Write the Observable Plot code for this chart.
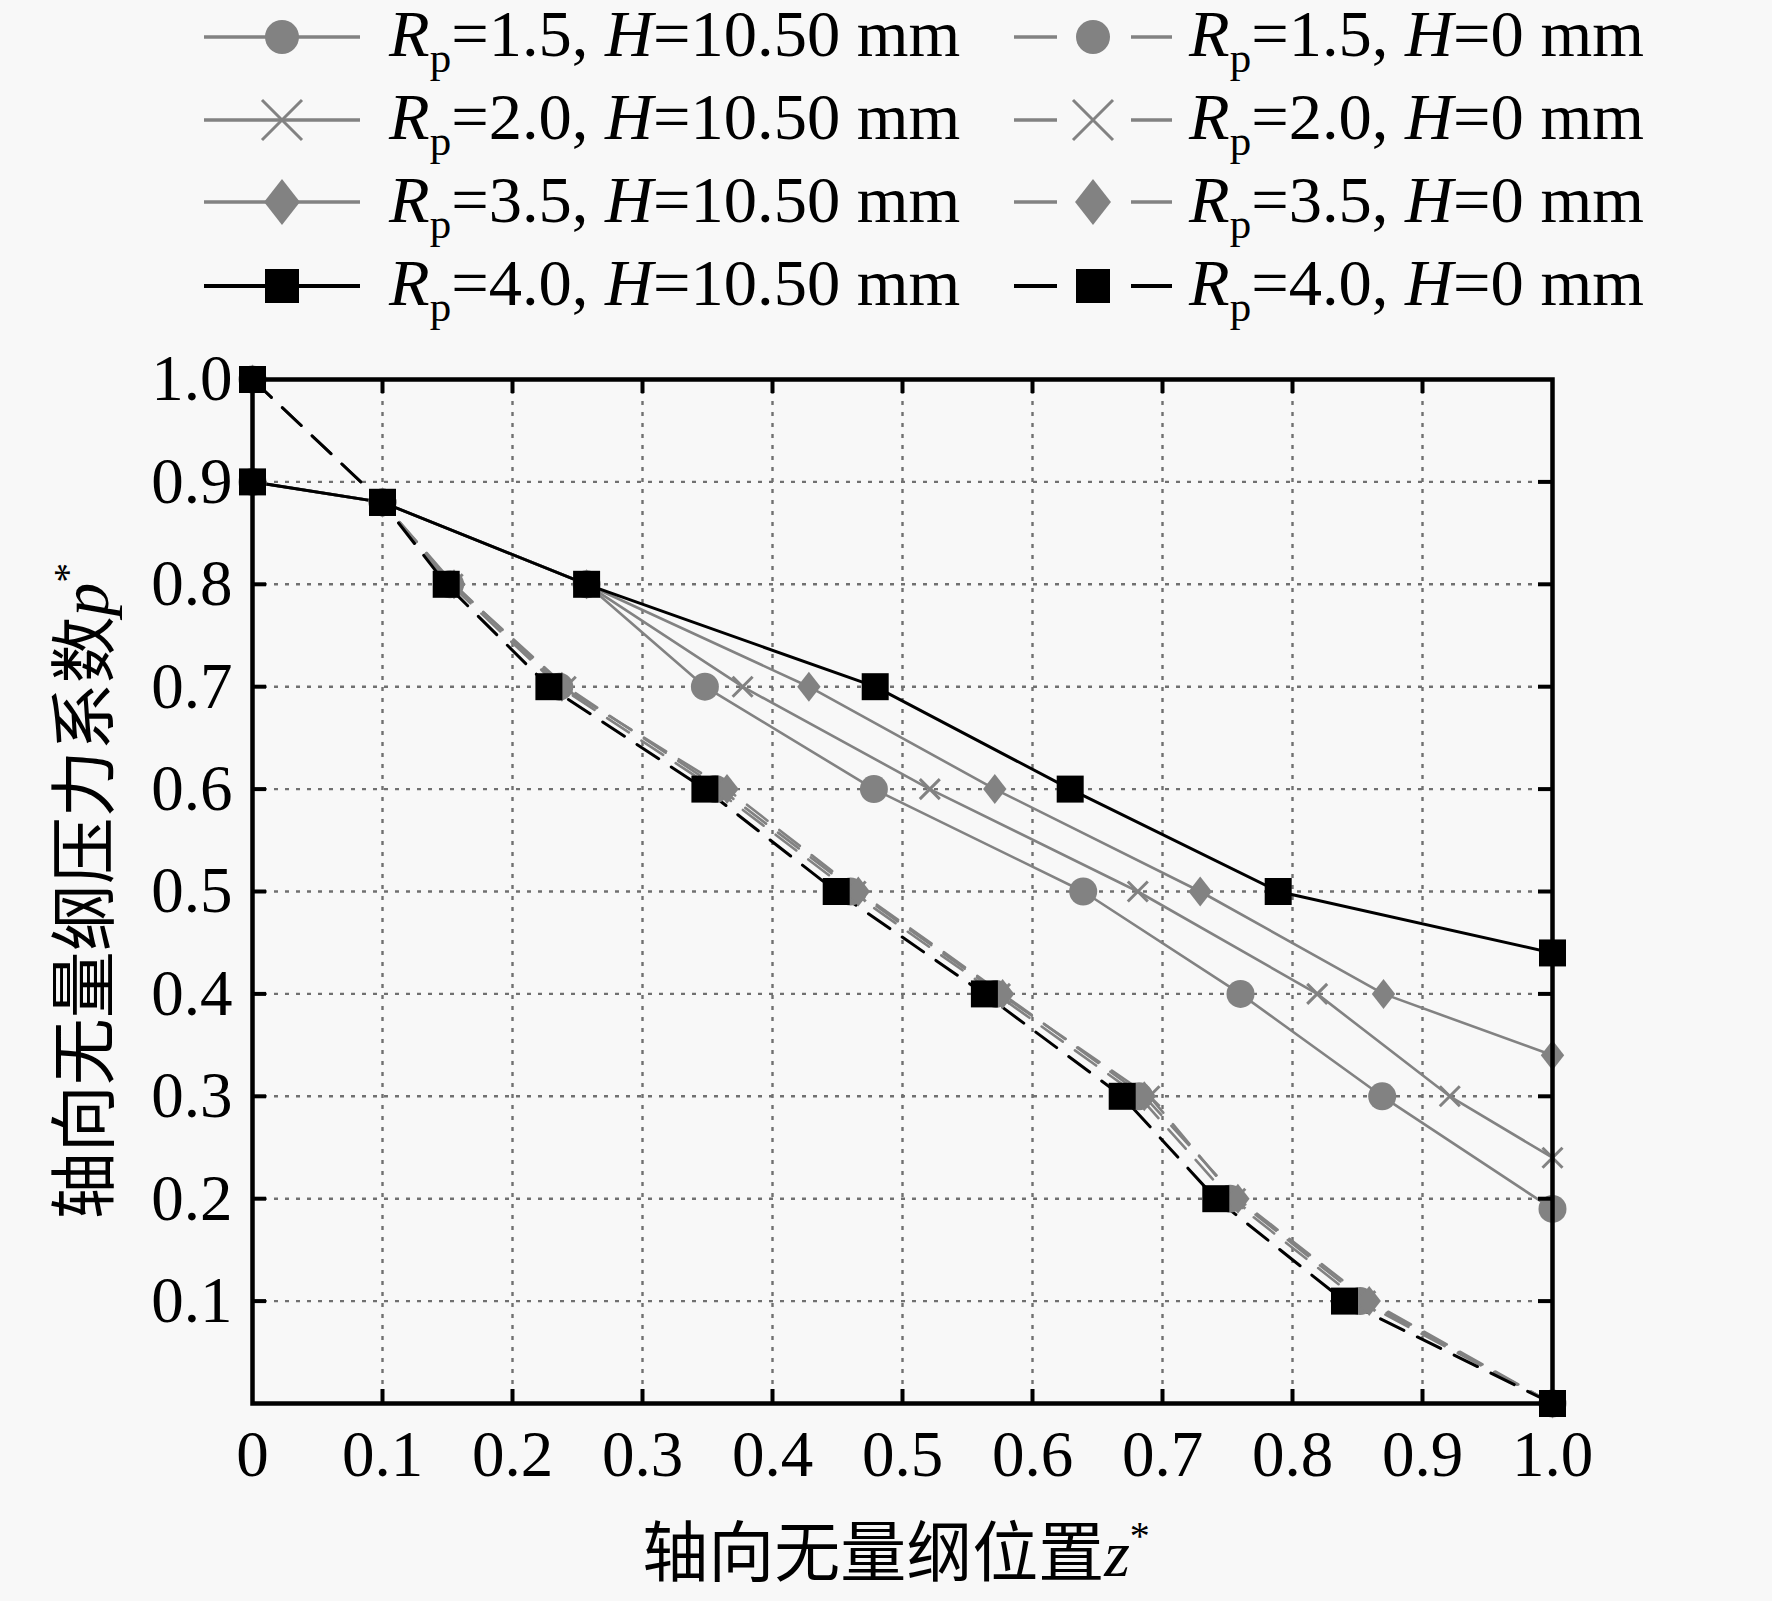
<!DOCTYPE html>
<html>
<head>
<meta charset="utf-8">
<script src="https://cdn.jsdelivr.net/npm/d3@7"></script>
<script src="https://cdn.jsdelivr.net/npm/@observablehq/plot@0.6"></script>
<style>
  html, body { margin: 0; padding: 0; background: #f8f8f8; }
  #chart { width: 1772px; }
  svg { display: block; overflow: visible; }
</style>
</head>
<body>
<div id="chart"></div>
<script>
// ---------------- data ----------------
// H = 10.50 mm (solid lines)
const zRp15H105 = [0, 0.10, 0.257, 0.348, 0.478, 0.639, 0.760, 0.869, 1.00];
const pRp15H105 = [0.90, 0.88, 0.80, 0.70, 0.60, 0.50, 0.40, 0.30, 0.19];
const zRp20H105 = [0, 0.10, 0.257, 0.377, 0.521, 0.681, 0.819, 0.921, 1.00];
const pRp20H105 = [0.90, 0.88, 0.80, 0.70, 0.60, 0.50, 0.40, 0.30, 0.24];
const zRp35H105 = [0, 0.10, 0.257, 0.428, 0.571, 0.729, 0.870, 1.00];
const pRp35H105 = [0.90, 0.88, 0.80, 0.70, 0.60, 0.50, 0.40, 0.34];
const zRp40H105 = [0, 0.10, 0.257, 0.479, 0.629, 0.789, 1.00];
const pRp40H105 = [0.90, 0.88, 0.80, 0.70, 0.60, 0.50, 0.44];
// H = 0 mm (dashed lines)
const pH0 = [1.00, 0.88, 0.80, 0.70, 0.60, 0.50, 0.40, 0.30, 0.20, 0.10, 0.00];
const zRp15H0 = [0, 0.10, 0.152, 0.236, 0.356, 0.460, 0.572, 0.682, 0.752, 0.852, 1.00];
const zRp20H0 = [0, 0.10, 0.154, 0.241, 0.360, 0.464, 0.575, 0.690, 0.756, 0.856, 1.00];
const zRp35H0 = [0, 0.10, 0.155, 0.238, 0.365, 0.466, 0.577, 0.686, 0.758, 0.859, 1.00];
const zRp40H0 = [0, 0.10, 0.149, 0.228, 0.348, 0.449, 0.563, 0.669, 0.741, 0.840, 1.00];
// axes
const xTicks = [0, 0.1, 0.2, 0.3, 0.4, 0.5, 0.6, 0.7, 0.8, 0.9, 1.0];
const yTicks = [0.1, 0.2, 0.3, 0.4, 0.5, 0.6, 0.7, 0.8, 0.9, 1.0];
const gridTicks = [0.1, 0.2, 0.3, 0.4, 0.5, 0.6, 0.7, 0.8, 0.9];
const rpLabels = ["1.5", "2.0", "3.5", "4.0"];
const hLabels = ["10.50", "0"];
const xTitle = "轴向无量纲位置";
const yTitle = "轴向无量纲压力系数";

// ---------------- styles ----------------
const GRAY = "#828282";
const BLACK = "#000000";
const SERIF = "'Liberation Serif', 'Times New Roman', serif";
const CJK = "'Noto Sans CJK SC', sans-serif";

const symCircle = {draw(ctx, size) { const r = Math.sqrt(size / Math.PI); ctx.moveTo(r, 0); ctx.arc(0, 0, r, 0, 2 * Math.PI); }};
const symSquare = {draw(ctx, size) { const r = Math.sqrt(size / Math.PI); ctx.moveTo(-r, -r); ctx.lineTo(r, -r); ctx.lineTo(r, r); ctx.lineTo(-r, r); ctx.closePath(); }};
const symDiamond = {draw(ctx, size) { const r = Math.sqrt(size / Math.PI); const w = r * 0.78; ctx.moveTo(0, -r); ctx.lineTo(w, 0); ctx.lineTo(0, r); ctx.lineTo(-w, 0); ctx.closePath(); }};
const symTimes = {draw(ctx, size) { const r = Math.sqrt(size / Math.PI); ctx.moveTo(-r, -r); ctx.lineTo(r, r); ctx.moveTo(r, -r); ctx.lineTo(-r, r); }};

const markerStyle = [
  {sym: symCircle, r: 14, filled: true, legendR: 17},
  {sym: symTimes, r: 10, filled: false, legendR: 20},
  {sym: symDiamond, r: 15, filled: true, legendR: 23},
  {sym: symSquare, r: 13.5, filled: true, legendR: 17}
];

const series = [
  {rp: 0, h: 0, z: zRp15H105, p: pRp15H105},
  {rp: 1, h: 0, z: zRp20H105, p: pRp20H105},
  {rp: 2, h: 0, z: zRp35H105, p: pRp35H105},
  {rp: 3, h: 0, z: zRp40H105, p: pRp40H105},
  {rp: 0, h: 1, z: zRp15H0, p: pH0},
  {rp: 1, h: 1, z: zRp20H0, p: pH0},
  {rp: 2, h: 1, z: zRp35H0, p: pH0},
  {rp: 3, h: 1, z: zRp40H0, p: pH0}
].map(s => ({...s, color: s.rp === 3 ? BLACK : GRAY, dashed: s.h === 1,
  rows: s.z.map((z, i) => ({z, p: s.p[i]}))}));

// ---------------- legend (above the plot) ----------------
const LEG_H = 330;
const legend = d3.create("svg").attr("width", 1772).attr("height", LEG_H)
  .style("font-family", SERIF).style("font-size", "66.5px");
const rowY = [37, 120, 202, 286];
const rowBase = [56, 139, 222, 305];
series.forEach(s => {
  const y = rowY[s.rp], yb = rowBase[s.rp];
  const col = s.h;
  const g = legend.append("g");
  const lw = s.rp === 3 ? 4 : 3.5;
  if (col === 0) {
    g.append("line").attr("x1", 204).attr("x2", 360).attr("y1", y).attr("y2", y)
      .attr("stroke", s.color).attr("stroke-width", lw);
  } else {
    g.append("line").attr("x1", 1014).attr("x2", 1057).attr("y1", y).attr("y2", y)
      .attr("stroke", s.color).attr("stroke-width", lw);
    g.append("line").attr("x1", 1131).attr("x2", 1172).attr("y1", y).attr("y2", y)
      .attr("stroke", s.color).attr("stroke-width", lw);
  }
  const m = markerStyle[s.rp];
  const mx = col === 0 ? 282 : 1093;
  const path = d3.symbol(m.sym, Math.PI * m.legendR * m.legendR)();
  g.append("path").attr("d", path).attr("transform", `translate(${mx},${y})`)
    .attr("fill", m.filled ? s.color : "none").attr("stroke", m.filled ? "none" : s.color)
    .attr("stroke-width", m.filled ? 0 : 3);
  const tx = col === 0 ? 389 : 1189;
  const t = g.append("text").attr("x", tx).attr("y", yb).attr("fill", "#000");
  t.append("tspan").attr("font-style", "italic").text("R");
  t.append("tspan").attr("font-size", "43px").attr("dy", 16).text("p");
  t.append("tspan").attr("dy", -16).text(`=${rpLabels[s.rp]}, `);
  t.append("tspan").attr("font-style", "italic").text("H");
  t.append("tspan").text(`=${hLabels[s.h]} mm`);
});
document.getElementById("chart").append(legend.node());

// ---------------- plot ----------------
const W = 1772, H = 1271;
const mT = 49, mB = 198, mL = 252, mR = 220;
const plotW = W - mL - mR, plotH = H - mT - mB;
const TICK = 14;

const lineMarks = [];
const dotMarks = [];
[4, 5, 6, 7, 0, 1, 2, 3].forEach(k => {
  const s = series[k];
  lineMarks.push(Plot.line(s.rows, {x: "z", y: "p", stroke: s.color,
    strokeWidth: s.rp === 3 ? 3 : 2.6,
    strokeDasharray: s.dashed ? "26,15" : null}));
});
[4, 5, 6, 0, 1, 2, 7, 3].forEach(k => {
  const s = series[k];
  const m = markerStyle[s.rp];
  dotMarks.push(Plot.dot(s.rows, {x: "z", y: "p", symbol: m.sym, r: m.r,
    fill: m.filled ? s.color : "none", stroke: m.filled ? "none" : s.color,
    strokeWidth: m.filled ? 0 : 3}));
});

const plot = Plot.plot({
  width: W, height: H,
  marginTop: mT, marginBottom: mB, marginLeft: mL, marginRight: mR,
  style: {background: "transparent", fontFamily: SERIF, fontSize: "64px", color: "#000", overflow: "visible"},
  x: {domain: [0, 1], ticks: xTicks, tickFormat: d => d === 0 ? "0" : d.toFixed(1), tickSize: 0, tickPadding: 26, label: null},
  y: {domain: [0, 1], ticks: yTicks, tickFormat: d => d.toFixed(1), tickSize: 0, tickPadding: 20, label: null},
  marks: [
    Plot.ruleX(gridTicks, {x: d => d, stroke: "#707070", strokeWidth: 2.4, strokeDasharray: "4,7"}),
    Plot.ruleY(gridTicks, {y: d => d, stroke: "#707070", strokeWidth: 2.4, strokeDasharray: "4,7"}),
    ...lineMarks,
    ...dotMarks,
    Plot.tickX(gridTicks, {x: d => d, insetTop: plotH - TICK, stroke: "#000", strokeWidth: 4}),
    Plot.tickX(gridTicks, {x: d => d, insetBottom: plotH - TICK, stroke: "#000", strokeWidth: 4}),
    Plot.tickY(gridTicks, {y: d => d, insetRight: plotW - TICK, stroke: "#000", strokeWidth: 4}),
    Plot.tickY(gridTicks, {y: d => d, insetLeft: plotW - TICK, stroke: "#000", strokeWidth: 4}),
    Plot.frame({stroke: "#000", strokeWidth: 4.5})
  ]
});

const svg = d3.select(plot.tagName.toLowerCase() === "svg" ? plot : plot.querySelector("svg"));
svg.selectAll("text").attr("font-size", "65px").attr("font-family", SERIF).attr("fill", "#000");

// axis titles
const xt = svg.append("text").attr("x", mL + plotW / 2 - 6).attr("y", 1246)
  .attr("text-anchor", "middle").attr("font-size", "66px").attr("fill", "#000");
xt.append("tspan").attr("font-family", CJK).text(xTitle);
xt.append("tspan").attr("font-family", SERIF).attr("font-style", "italic").text("z");
xt.append("tspan").attr("font-family", SERIF).attr("font-size", "40px").attr("dy", -27).text("*");

const yt = svg.append("text").attr("transform", `translate(108,${mT + plotH / 2}) rotate(-90)`)
  .attr("text-anchor", "middle").attr("font-size", "67px").attr("fill", "#000");
yt.append("tspan").attr("font-family", CJK).text(yTitle);
yt.append("tspan").attr("font-family", SERIF).attr("font-style", "italic").text("p");
yt.append("tspan").attr("font-family", SERIF).attr("font-size", "40px").attr("dy", -27).text("*");

document.getElementById("chart").append(plot);
</script>
</body>
</html>
